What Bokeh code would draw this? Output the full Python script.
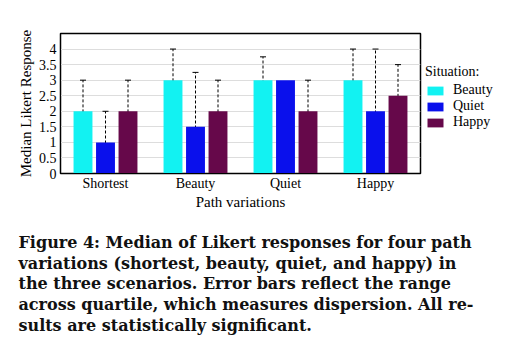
from bokeh.plotting import figure
from bokeh.layouts import column, row
from bokeh.models import ColumnDataSource, FactorRange, Whisker, TeeHead, Legend, LegendItem, Range1d, FixedTicker
from bokeh.core.properties import value
from bokeh.transform import dodge
from bokeh.embed import file_html
from bokeh.resources import INLINE

nan = float("nan")

paths = ["Shortest", "Beauty", "Quiet", "Happy"]
situations = ["Beauty", "Quiet", "Happy"]
colors = ["#12F2F2", "#0A10EC", "#66084A"]

beauty_med = [2, 3, 3, 3]
beauty_lo = [1, 2, 2.25, 2]
beauty_hi = [3, 4, 3.75, 4]

quiet_med = [1, 1.5, 3, 2]
quiet_lo = [0, 0, nan, 0]
quiet_hi = [2, 3.25, nan, 4]

happy_med = [2, 2, 2, 2.5]
happy_lo = [1, 1, 1, 1.5]
happy_hi = [3, 3, 3, 3.5]

y_ticks = [0, 0.5, 1, 1.5, 2, 2.5, 3, 3.5, 4]

caption_lines = [
    "Figure 4: Median of Likert responses for four path",
    "variations (shortest, beauty, quiet, and happy) in",
    "the three scenarios.  Error bars reflect the range",
    "across quartile, which measures dispersion.  All re-",
    "sults are statistically significant.",
]

serif = "Liberation Serif"
TOP_H = 212
BORDER_TOP = 33
BORDER_BOTTOM = 39

# ---------------- main chart ----------------
p = figure(x_range=FactorRange(*paths, range_padding=0), y_range=Range1d(0, 4.5),
           width=422, height=TOP_H, output_backend="svg", toolbar_location=None,
           min_border_left=60, min_border_right=2, min_border_top=BORDER_TOP,
           min_border_bottom=BORDER_BOTTOM)
p.background_fill_color = "white"
p.border_fill_color = "white"
p.outline_line_color = "black"
p.outline_line_width = 1.5

series = [(beauty_med, beauty_lo, beauty_hi), (quiet_med, quiet_lo, quiet_hi), (happy_med, happy_lo, happy_hi)]
offsets = [-0.25, 0, 0.25]
for (med, lo, hi), off, col in zip(series, offsets, colors):
    src = ColumnDataSource(dict(path=paths, med=med, lo=lo, hi=hi))
    p.vbar(x=dodge("path", off, range=p.x_range), top="med", width=0.21, source=src,
           fill_color=col, line_color=None)
    w = Whisker(base=dodge("path", off, range=p.x_range), lower="lo", upper="hi", source=src,
                line_color="black", line_width=1, line_dash="3 2",
                upper_head=TeeHead(size=6, line_color="black", line_width=1),
                lower_head=TeeHead(size=6, line_color="black", line_width=1))
    p.add_layout(w)

p.yaxis.ticker = FixedTicker(ticks=y_ticks)
p.ygrid.ticker = FixedTicker(ticks=y_ticks)
p.ygrid.grid_line_color = "#dddddd"
p.xgrid.grid_line_color = None
for ax in (p.xaxis, p.yaxis):
    ax.major_tick_line_color = None
    ax.minor_tick_line_color = None
    ax.major_tick_out = 0
    ax.major_tick_in = 0
    ax.axis_line_color = "black"
    ax.major_label_text_font = serif
    ax.major_label_text_font_size = "14px"
    ax.major_label_text_color = "black"
    ax.axis_label_text_font = serif
    ax.axis_label_text_font_size = "15px"
    ax.axis_label_text_font_style = "normal"
    ax.axis_label_text_color = "black"
p.yaxis.major_label_standoff = 4
p.xaxis.major_label_standoff = 2
p.yaxis.axis_label = "Median Likert Response"
p.xaxis.axis_label = "Path variations"
p.yaxis.axis_label_standoff = 2
p.xaxis.axis_label_standoff = 0

# ---------------- legend panel ----------------
leg = figure(width=96, height=TOP_H, output_backend="svg", toolbar_location=None,
             x_range=Range1d(0, 1), y_range=Range1d(0, 1),
             min_border_left=0, min_border_right=0, min_border_top=BORDER_TOP,
             min_border_bottom=BORDER_BOTTOM)
leg.axis.visible = False
leg.grid.visible = False
leg.outline_line_color = None
leg.background_fill_color = "white"
leg.border_fill_color = "white"
items = []
for col, name in zip(colors, situations):
    # legend-only renderers, placed outside the visible range
    r = leg.vbar(x=[5], top=[5], bottom=[4], width=0.2, fill_color=col, line_color=None)
    items.append(LegendItem(label=name, renderers=[r]))
legend = Legend(items=items, title="Situation:", location=(3, 43), margin=0,
                title_text_font=serif, title_text_font_size="14px", title_text_font_style="normal",
                title_text_color="black",
                label_text_font=serif, label_text_font_size="14px", label_text_color="black",
                glyph_width=20, glyph_height=11, label_height=16, spacing=0, padding=4,
                border_line_color=None, background_fill_alpha=0, title_standoff=2,
                label_standoff=8)
leg.add_layout(legend)

# ---------------- caption ----------------
CAP_H = 352 - TOP_H
cap = figure(width=518, height=CAP_H, output_backend="svg", toolbar_location=None,
             x_range=Range1d(0, 518), y_range=Range1d(CAP_H, 0),
             min_border_left=0, min_border_right=0, min_border_top=0, min_border_bottom=0)
cap.axis.visible = False
cap.grid.visible = False
cap.outline_line_color = None
line_pitch = 20.7
cap_src = ColumnDataSource(dict(
    x=[18] * len(caption_lines),
    y=[30 + i * line_pitch for i in range(len(caption_lines))],
    t=caption_lines))
cap.text(x="x", y="y", text="t", source=cap_src, text_font=value("DejaVu Serif"),
         text_font_style="bold", text_font_size="16px", text_color="#111111",
         text_baseline="middle", text_align="left")

layout = column(row(p, leg), cap)
open("out.html", "w").write(file_html(layout, INLINE))
